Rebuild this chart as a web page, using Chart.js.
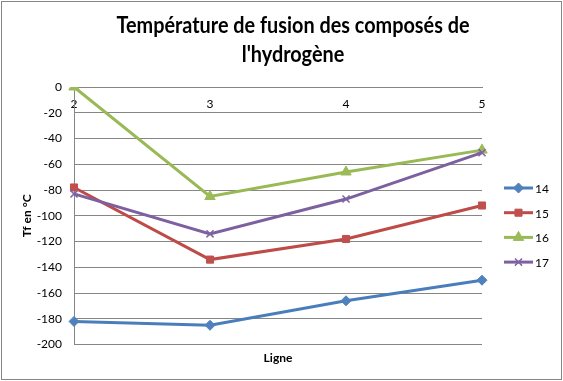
<!DOCTYPE html>
<html>
<head>
<meta charset="utf-8">
<script src="https://cdn.jsdelivr.net/npm/chart.js@4/dist/chart.umd.min.js"></script>
<style>
  html, body { margin: 0; padding: 0; background: #fff; }
  #wrap { position: relative; width: 563px; height: 381px; box-sizing: border-box; }
  #wrap canvas { position: absolute; left: 0; top: 0; }
  #frame { position: absolute; left: 1px; top: 1px; width: 561px; height: 379px; box-sizing: border-box; border: 1px solid #868686; pointer-events: none; }
</style>
</head>
<body>
<div id="wrap">
  <canvas id="c" width="563" height="381"></canvas>
  <div id="frame"></div>
</div>
<script>
// ---- data ----
const titleLines = ["Température de fusion des composés de", "l'hydrogène"];
const categories = ["2", "3", "4", "5"];
const seriesNames = ["14", "15", "16", "17"];
const group14 = [-182, -185, -166, -150];
const group15 = [-78, -134, -118, -92];
const group16 = [0, -85, -66, -49];
const group17 = [-83, -114, -87, -51];
const yTitle = "Tf en °C";
const xTitle = "Ligne";
const yMin = -200, yMax = 0, yStep = 20;

// ---- styles ----
const FONT = "Lato, 'Open Sans', sans-serif";
const lineColors = ["#4A7EBB", "#BE4B48", "#98B954", "#7D60A0"];
const markerColors = ["#4F81BD", "#C0504D", "#9BBB59", "#8064A2"];
const markerStyles = ["rectRot", "rect", "triangle", "crossRot"];
const markerRadius = [5, 5, 6, 5];
const values = [group14, group15, group16, group17];

const datasets = values.map((v, i) => ({
  label: seriesNames[i],
  data: v,
  xAxisID: 'x',
  yAxisID: 'y',
  borderColor: lineColors[i],
  backgroundColor: markerColors[i],
  borderWidth: 3,
  tension: 0,
  pointStyle: markerStyles[i],
  pointRadius: markerRadius[i],
  pointBackgroundColor: markerColors[i],
  pointBorderColor: markerColors[i],
  pointBorderWidth: markerStyles[i] === 'crossRot' ? 1.5 : 1,
  order: values.length - i
}));

const decorPlugin = {
  id: 'decor',
  afterDraw(chart) {
    const ctx = chart.ctx;
    ctx.save();
    // title
    ctx.fillStyle = '#000';
    ctx.textAlign = 'center';
    ctx.textBaseline = 'alphabetic';
    ctx.font = "bold 23px " + FONT;
    const w1 = ctx.measureText(titleLines[0]).width;
    const s = Math.min(1, 353 / w1);
    ctx.fillText(titleLines[0], 293, 33, w1 * s);
    const w2 = ctx.measureText(titleLines[1]).width;
    ctx.fillText(titleLines[1], 293, 62, w2 * s);
    // legend
    const lx = 504, lw = 29, ly0 = 188, dy = 24.7;
    seriesNames.forEach((name, i) => {
      const y = ly0 + i * dy;
      ctx.strokeStyle = lineColors[i];
      ctx.lineWidth = 3;
      ctx.beginPath();
      ctx.moveTo(lx, y);
      ctx.lineTo(lx + lw, y);
      ctx.stroke();
      ctx.fillStyle = markerColors[i];
      ctx.strokeStyle = markerColors[i];
      ctx.lineWidth = markerStyles[i] === 'crossRot' ? 1.5 : 1;
      Chart.helpers.drawPoint(ctx, {pointStyle: markerStyles[i], radius: markerRadius[i], rotation: 0, borderWidth: ctx.lineWidth}, lx + lw / 2, y);
      ctx.fillStyle = '#000';
      ctx.textAlign = 'left';
      ctx.textBaseline = 'middle';
      ctx.font = "12px " + FONT;
      ctx.fillText(name, lx + lw + 2, y + 1);
    });
    ctx.restore();
  }
};

new Chart(document.getElementById('c'), {
  type: 'line',
  data: { labels: categories, datasets },
  plugins: [decorPlugin],
  options: {
    responsive: false,
    animation: false,
    devicePixelRatio: 1,
    layout: { padding: { left: 16, top: 87, right: 81, bottom: 12 } },
    plugins: { legend: { display: false }, title: { display: false }, tooltip: { enabled: false } },
    scales: {
      x: {
        type: 'category',
        position: { y: 0 },
        offset: false,
        grid: { display: false, drawTicks: false },
        border: { display: true, color: '#868686', width: 1 },
        ticks: { color: '#000', font: { family: FONT, size: 12 }, padding: 10, maxRotation: 0, autoSkip: false }
      },
      xt: {
        type: 'category',
        position: 'bottom',
        offset: false,
        grid: { display: false, drawTicks: false },
        border: { display: false },
        ticks: { display: false },
        title: { display: true, text: xTitle, color: '#000', font: { family: FONT, size: 12, weight: 'bold' }, padding: { top: 6, bottom: 4 } }
      },
      y: {
        min: yMin, max: yMax,
        grid: { color: '#868686', drawTicks: false, lineWidth: 1 },
        border: { display: true, color: '#868686', width: 1 },
        ticks: { stepSize: yStep, color: '#000', font: { family: FONT, size: 12 }, padding: 12 },
        title: { display: true, text: yTitle, color: '#000', font: { family: FONT, size: 12, weight: 'bold' }, padding: { top: 4, bottom: 4 } },
        afterFit(scale) { scale.width = 58; }
      }
    }
  }
});
</script>
</body>
</html>
